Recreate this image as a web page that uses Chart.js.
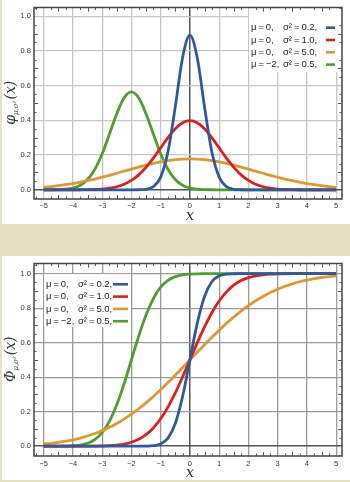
<!DOCTYPE html>
<html>
<head>
<meta charset="utf-8">
<script src="https://cdn.jsdelivr.net/npm/chart.js@4.4.1/dist/chart.umd.min.js"></script>
<style>
html, body { margin: 0; padding: 0; }
body { width: 350px; height: 482px; background: #e6e0c5; position: relative; overflow: hidden; }
.panel { position: absolute; left: 2px; width: 348px; height: 224px; background: #fff; }
canvas { position: absolute; left: 0; }
</style>
</head>
<body>
<div class="panel" style="top:0"></div>
<div class="panel" style="top:256px"></div>
<canvas id="pdfChart" width="350" height="224" style="top:0"></canvas>
<canvas id="cdfChart" width="350" height="224" style="top:256px"></canvas>
<script>
// x positions where the curves were read
var xVals = [-5, -4.75, -4.5, -4.25, -4, -3.75, -3.5, -3.25, -3, -2.75, -2.5, -2.25, -2, -1.75, -1.5, -1.25, -1, -0.75, -0.5, -0.25,
  0, 0.25, 0.5, 0.75, 1, 1.25, 1.5, 1.75, 2, 2.25, 2.5, 2.75, 3, 3.25, 3.5, 3.75, 4, 4.25, 4.5, 4.75, 5];

// density curves
var pdfBlue = [0, 0, 0, 0, 0, 0, 0, 0, 0, 0, 0, 0, 0, 0.0004, 0.003, 0.018, 0.073, 0.219, 0.478, 0.763,
  0.892, 0.763, 0.478, 0.219, 0.073, 0.018, 0.003, 0.0004, 0, 0, 0, 0, 0, 0, 0, 0, 0, 0, 0, 0, 0];
var pdfRed = [0, 0, 0, 0.0001, 0.0001, 0.0004, 0.0009, 0.002, 0.0044, 0.0091, 0.0175, 0.0317, 0.054, 0.0863, 0.1295, 0.1826, 0.242, 0.3011, 0.3521, 0.3867,
  0.3989, 0.3867, 0.3521, 0.3011, 0.242, 0.1826, 0.1295, 0.0863, 0.054, 0.0317, 0.0175, 0.0091, 0.0044, 0.002, 0.0009, 0.0004, 0.0001, 0.0001, 0, 0, 0];
var pdfOrange = [0.0146, 0.0187, 0.0235, 0.0293, 0.036, 0.0437, 0.0524, 0.062, 0.0725, 0.0837, 0.0955, 0.1075, 0.1196, 0.1313, 0.1425, 0.1526, 0.1614, 0.1687, 0.174, 0.1773,
  0.1784, 0.1773, 0.174, 0.1687, 0.1614, 0.1526, 0.1425, 0.1313, 0.1196, 0.1075, 0.0955, 0.0837, 0.0725, 0.062, 0.0524, 0.0437, 0.036, 0.0293, 0.0235, 0.0187, 0.0146];
var pdfGreen = [0.0001, 0.0003, 0.0011, 0.0036, 0.0103, 0.0264, 0.0595, 0.1183, 0.2076, 0.3215, 0.439, 0.53, 0.5642, 0.53, 0.439, 0.3215, 0.2076, 0.1183, 0.0595, 0.0264,
  0.0103, 0.0036, 0.0011, 0.0003, 0.0001, 0, 0, 0, 0, 0, 0, 0, 0, 0, 0, 0, 0, 0, 0, 0, 0];

// cumulative curves
var cdfBlue = [0, 0, 0, 0, 0, 0, 0, 0, 0, 0, 0, 0, 0, 0, 0.0004, 0.0026, 0.0127, 0.0468, 0.1318, 0.2881,
  0.5, 0.7119, 0.8682, 0.9532, 0.9873, 0.9974, 0.9996, 1, 1, 1, 1, 1, 1, 1, 1, 1, 1, 1, 1, 1, 1];
var cdfRed = [0, 0, 0, 0, 0, 0.0001, 0.0002, 0.0006, 0.0013, 0.003, 0.0062, 0.0122, 0.0228, 0.0401, 0.0668, 0.1056, 0.1587, 0.2266, 0.3085, 0.4013,
  0.5, 0.5987, 0.6915, 0.7734, 0.8413, 0.8944, 0.9332, 0.9599, 0.9772, 0.9878, 0.9938, 0.997, 0.9987, 0.9994, 0.9998, 0.9999, 1, 1, 1, 1, 1];
var cdfOrange = [0.0127, 0.0168, 0.0221, 0.0287, 0.0368, 0.0468, 0.0588, 0.0731, 0.0899, 0.1094, 0.1318, 0.1571, 0.1855, 0.2169, 0.2512, 0.2881, 0.3274, 0.3687, 0.4115, 0.4555,
  0.5, 0.5445, 0.5885, 0.6313, 0.6726, 0.7119, 0.7488, 0.7831, 0.8145, 0.8429, 0.8682, 0.8906, 0.9101, 0.9269, 0.9412, 0.9532, 0.9632, 0.9713, 0.9779, 0.9832, 0.9873];
var cdfGreen = [0, 0, 0.0002, 0.0007, 0.0023, 0.0067, 0.0169, 0.0385, 0.0786, 0.1444, 0.2398, 0.3618, 0.5, 0.6382, 0.7602, 0.8556, 0.9214, 0.9615, 0.9831, 0.9933,
  0.9977, 0.9993, 0.9998, 1, 1, 1, 1, 1, 1, 1, 1, 1, 1, 1, 1, 1, 1, 1, 1, 1, 1];

var xTicks = [-5, -4, -3, -2, -1, 0, 1, 2, 3, 4, 5];
var yTicks = [0, 0.2, 0.4, 0.6, 0.8, 1.0];
var legendMu = ['0', '0', '0', '\u22122'];
var legendVar = ['0.2', '1.0', '5.0', '0.5'];
var colors = ['#2c5a9c', '#dc1f1f', '#dd9733', '#4e9e2e'];

var decor = {
  id: 'decor',
  afterDatasetsDraw: function(chart, args, o) {
    var ctx = chart.ctx, a = chart.chartArea;
    var xs = chart.scales.x, ys = chart.scales.y;
    ctx.save();

    // legend box
    var L = o.legend;
    ctx.fillStyle = '#fff';
    ctx.fillRect(L.x, L.y, L.w, L.h);
    ctx.textBaseline = 'middle';
    ctx.fillStyle = '#222';
    ctx.font = '9.5px "Liberation Sans"';
    for (var i = 0; i < 4; i++) {
      var ry = L.row0 + i * L.step;
      ctx.fillText('\u03bc\u2009=\u2009' + legendMu[i] + ',', L.tx, ry);
      ctx.fillText('\u03c3\u00b2\u2009=\u2009' + legendVar[i] + ',', L.tx + L.sig, ry);
      ctx.strokeStyle = colors[i];
      ctx.lineWidth = 2.6;
      ctx.beginPath();
      ctx.moveTo(L.tx + L.s0, ry);
      ctx.lineTo(L.tx + L.s1, ry);
      ctx.stroke();
    }

    // frame and minor ticks
    ctx.strokeStyle = '#444';
    ctx.lineWidth = 1.5;
    ctx.strokeRect(a.left, a.top, a.right - a.left, a.bottom - a.top);
    ctx.lineWidth = 1;
    ctx.strokeStyle = '#555';
    ctx.beginPath();
    for (var k = -21; k <= 20; k++) {
      if (k % 4 === 0) continue;
      var px = Math.round(xs.getPixelForValue(k / 4)) + 0.5;
      var len = (k % 2 === 0) ? 4 : 2.5;
      ctx.moveTo(px, a.bottom); ctx.lineTo(px, a.bottom - len);
      ctx.moveTo(px, a.top); ctx.lineTo(px, a.top + len);
    }
    for (var m = -1; m <= 21; m++) {
      if (m % 4 === 0) continue;
      var py = Math.round(ys.getPixelForValue(m / 20)) + 0.5;
      var ln = (m % 2 === 0) ? 4 : 2.5;
      ctx.moveTo(a.left, py); ctx.lineTo(a.left + ln, py);
      ctx.moveTo(a.right, py); ctx.lineTo(a.right - ln, py);
    }
    ctx.stroke();

    // x title
    ctx.fillStyle = '#333';
    ctx.textAlign = 'center';
    ctx.textBaseline = 'middle';
    ctx.font = 'italic 15px "DejaVu Serif"';
    ctx.fillText('x', xs.getPixelForValue(0), a.bottom + 17);

    // y title with subscript
    ctx.translate(15, (a.top + a.bottom) / 2);
    ctx.rotate(-Math.PI / 2);
    ctx.textAlign = 'left';
    ctx.textBaseline = 'alphabetic';
    var big = 'italic 14px "DejaVu Serif"', small = 'italic 7px "DejaVu Serif"';
    ctx.font = big; var w1 = ctx.measureText(o.letter).width;
    ctx.font = small; var w2 = ctx.measureText('\u03bc,\u03c3\u00b2').width;
    ctx.font = big; var w3 = ctx.measureText('(x)').width;
    var sx = -(w1 + w2 + w3) / 2;
    ctx.font = big; ctx.fillText(o.letter, sx, 0);
    ctx.font = small; ctx.fillText('\u03bc,\u03c3\u00b2', sx + w1, 3);
    ctx.font = big; ctx.fillText('(x)', sx + w1 + w2 + 1, 0);
    ctx.restore();
  }
};

function makeChart(canvasId, series, s) {
  var ctx = document.getElementById(canvasId);
  var datasets = series.map(function(arr, i) {
    return {
      data: xVals.map(function(x, j) { return { x: x, y: arr[j] }; }),
      borderColor: colors[i],
      borderWidth: 2.8,
      pointRadius: 0,
      cubicInterpolationMode: 'monotone',
      fill: false
    };
  });
  var tickFont = { family: 'Liberation Sans', size: 7.5 };
  return new Chart(ctx, {
    type: 'line',
    data: { datasets: datasets },
    plugins: [decor],
    options: {
      responsive: false,
      animation: false,
      layout: { padding: { top: s.top, right: 8, left: 0, bottom: 0 } },
      plugins: {
        legend: { display: false },
        tooltip: { enabled: false },
        decor: { letter: s.letter, legend: s.legend }
      },
      scales: {
        x: {
          type: 'linear', min: -5.33, max: 5.2,
          afterBuildTicks: function(sc) { sc.ticks = xTicks.map(function(v) { return { value: v }; }); },
          afterFit: function(sc) { sc.height = s.xh; },
          border: { display: false },
          grid: {
            drawTicks: false,
            color: function(c) { return c.tick && c.tick.value === 0 ? '#555' : s.grid; },
            lineWidth: function(c) { return c.tick && c.tick.value === 0 ? 1.5 : 1.3; }
          },
          ticks: {
            autoSkip: false, maxRotation: 0, padding: s.xpad, color: '#333', font: tickFont,
            callback: function(v) { return v < 0 ? '\u2212' + (-v) : String(v); }
          }
        },
        y: {
          min: s.ymin, max: s.ymax,
          afterBuildTicks: function(sc) { sc.ticks = yTicks.map(function(v) { return { value: v }; }); },
          afterFit: function(sc) { sc.width = 34; },
          border: { display: false },
          grid: {
            drawTicks: false,
            color: function(c) { return c.tick && c.tick.value === 0 ? '#555' : s.grid; },
            lineWidth: function(c) { return c.tick && c.tick.value === 0 ? 1.5 : 1.3; }
          },
          ticks: {
            padding: 3, color: '#333', font: tickFont,
            callback: function(v) { return Number(v).toFixed(1); }
          }
        }
      }
    }
  });
}

makeChart('pdfChart', [pdfBlue, pdfRed, pdfOrange, pdfGreen], {
  top: 4, xh: 25, xpad: 2, ymin: -0.053, ymax: 1.051, grid: '#c6c6c6', letter: '\u03c6',
  legend: { x: 249, y: 4, w: 93, h: 68, tx: 251, row0: 27.7, step: 12.3, sig: 32, s0: 75, s1: 84 }
});
makeChart('cdfChart', [cdfBlue, cdfRed, cdfOrange, cdfGreen], {
  top: 4, xh: 24, xpad: 3, ymin: -0.057, ymax: 1.059, grid: '#9a9a9a', letter: '\u03a6',
  legend: { x: 44, y: 18, w: 87, h: 53, tx: 46, row0: 28.3, step: 12.3, sig: 32, s0: 67, s1: 82 }
});
</script>
</body>
</html>
